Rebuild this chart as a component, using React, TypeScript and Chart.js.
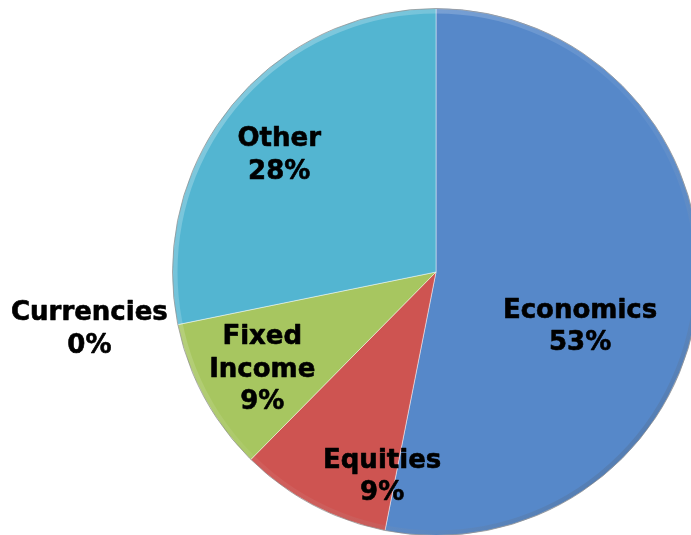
import React, { useEffect, useRef } from "react";
import { Chart, registerables } from "chart.js";

Chart.register(...registerables);

const categories = ["Economics", "Equities", "Fixed Income", "Currencies", "Other"];
const shares = [53.1, 9.3, 9.4, 0, 28.2];
const sliceColors = ["#5688C9", "#CE5451", "#A7C660", "#8064A2", "#53B5D1"];

// label placement tweaks (radius fraction, angle in degrees clockwise from top); others use the slice centroid
const placement: Record<string, { r?: number; deg?: number; outside?: boolean }> = {
  Economics: { r: 0.58, deg: 109.5 },
  Equities: { r: 0.79, deg: 195 },
  Other: { r: 0.75, deg: 307.5 },
  Currencies: { outside: true },
};

const CW = 710;
const CH = 545;

const labelPlugin = {
  id: "sliceLabels",
  afterDatasetsDraw(chart: any) {
    const ctx = chart.ctx;
    const meta = chart.getDatasetMeta(0);
    const total = shares.reduce((a, b) => a + b, 0);
    // rim bevel
    const first = meta.data[0];
    if (first) {
      const { x, y, outerRadius } = first.getProps(["x", "y", "outerRadius"], true);
      ctx.save();
      const g = ctx.createLinearGradient(x - outerRadius, y - outerRadius, x + outerRadius, y + outerRadius);
      g.addColorStop(0, "rgba(255,255,255,0.35)");
      g.addColorStop(0.5, "rgba(255,255,255,0.05)");
      g.addColorStop(1, "rgba(0,0,0,0.22)");
      ctx.strokeStyle = g;
      ctx.lineWidth = 5;
      ctx.beginPath();
      ctx.arc(x, y, outerRadius - 2.5, 0, Math.PI * 2);
      ctx.stroke();
      ctx.strokeStyle = "rgba(120,120,120,0.6)";
      ctx.lineWidth = 1;
      ctx.beginPath();
      ctx.arc(x, y, outerRadius, 0, Math.PI * 2);
      ctx.stroke();
      ctx.restore();
    }
    ctx.save();
    ctx.font = "bold 26px 'DejaVu Sans'";
    ctx.fillStyle = "#000";
    ctx.strokeStyle = "#000";
    ctx.lineWidth = 0.6;
    ctx.lineJoin = "round";
    ctx.textBaseline = "middle";
    const lh = 32.5;
    meta.data.forEach((arc: any, i: number) => {
      const { x, y, startAngle, endAngle, outerRadius } = arc.getProps(
        ["x", "y", "startAngle", "endAngle", "outerRadius"],
        true
      );
      const name = categories[i];
      const pct = Math.round((shares[i] / total) * 100) + "%";
      const lines = [...name.split(" "), pct];
      const p = placement[name] || {};
      let mid = (startAngle + endAngle) / 2;
      if (p.deg !== undefined) mid = (p.deg * Math.PI) / 180 - Math.PI / 2;
      let cx: number, cy: number;
      if (p.outside) {
        const ex = x + Math.cos(mid) * outerRadius;
        const ey = y + Math.sin(mid) * outerRadius;
        const w = Math.max(...lines.map((l) => ctx.measureText(l).width));
        cx = ex - 10 - w / 2;
        cy = ey + 5;
      } else {
        const r = (p.r ?? 0.75) * outerRadius;
        cx = x + Math.cos(mid) * r;
        cy = y + Math.sin(mid) * r + 4;
      }
      ctx.textAlign = "center";
      const top = cy - ((lines.length - 1) * lh) / 2;
      lines.forEach((l, k) => {
        ctx.fillText(l, cx, top + k * lh);
        ctx.strokeText(l, cx, top + k * lh);
      });
    });
    ctx.restore();
  },
};

export default function App() {
  const ref = useRef<HTMLCanvasElement>(null);
  useEffect(() => {
    if (!ref.current) return;
    const chart = new Chart(ref.current, {
      type: "pie",
      data: {
        labels: categories,
        datasets: [
          {
            data: shares,
            backgroundColor: sliceColors,
            borderColor: "rgba(255,255,255,0.45)",
            borderWidth: 1,
          },
        ],
      },
      options: {
        animation: false,
        responsive: false,
        devicePixelRatio: 1,
        layout: { padding: { left: 172, top: 8, right: CW - 700, bottom: CH - 536 } },
        plugins: { legend: { display: false }, tooltip: { enabled: false } },
      },
      plugins: [labelPlugin],
    });
    return () => chart.destroy();
  }, []);
  return (
    <div
      style={{
        position: "fixed",
        left: 0,
        top: 0,
        width: 691,
        height: 535,
        overflow: "hidden",
        background: "#fff",
      }}
    >
      <canvas ref={ref} width={CW} height={CH} style={{ width: CW, height: CH, display: "block" }} />
    </div>
  );
}
